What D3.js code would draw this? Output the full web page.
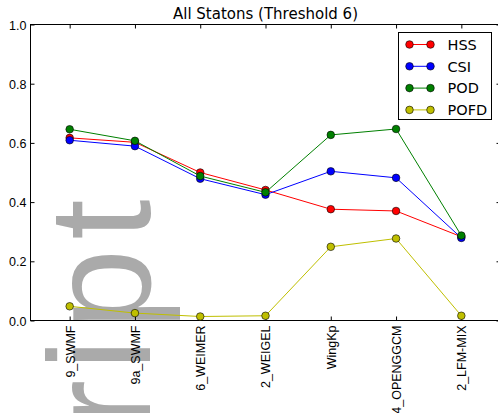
<!DOCTYPE html>
<html>
<head>
<meta charset="utf-8">
<script src="https://cdn.jsdelivr.net/npm/d3@7"></script>
<style>
  body { margin: 0; background: #fff; }
  svg { display: block; font-family: "DejaVu Sans", sans-serif; }
  .axis text { font-size: 12.5px; fill: #000; }
  .axis line { stroke: #000; }
</style>
</head>
<body>
<div id="chart"></div>
<script>
// values
var models = ["9_SWMF", "9a_SWMF", "6_WEIMER", "2_WEIGEL", "WingKp", "4_OPENGGCM", "2_LFM-MIX"];
var hss  = [0.617, 0.602, 0.500, 0.441, 0.376, 0.370, 0.283];
var csi  = [0.609, 0.589, 0.479, 0.425, 0.504, 0.482, 0.279];
var pod  = [0.646, 0.607, 0.488, 0.433, 0.627, 0.647, 0.287];
var pofd = [0.048, 0.025, 0.0135, 0.016, 0.249, 0.277, 0.016];
var seriesNames = ["HSS", "CSI", "POD", "POFD"];
var yTicks = [0.0, 0.2, 0.4, 0.6, 0.8, 1.0];

var width = 498, height = 413;
var plotLeft = 30.5, plotRight = 500.5, plotTop = 24.5, plotBottom = 320.5;

var svg = d3.select("#chart").append("svg")
  .attr("width", width)
  .attr("height", height);

// grey watermark behind everything (runs off the bottom edge)
svg.append("text")
  .attr("transform", "translate(150,428) rotate(-90)")
  .attr("text-anchor", "start")
  .style("font-family", "'Liberation Sans', Arial, sans-serif")
  .style("font-size", "145px")
  .style("letter-spacing", "9px")
  .attr("fill", "#aaaaaa")
  .text("ript");

var x = d3.scaleLinear().domain([-0.6, 6.6]).range([plotLeft, plotRight]);
var y = d3.scaleLinear().domain([0, 1]).range([plotBottom, plotTop]);

var color = d3.scaleOrdinal()
  .domain(seriesNames)
  .range(["#ff0000", "#0000ff", "#008000", "#bfbf00"]);

var series = [hss, csi, pod, pofd];

// axes, ticks point inward
var gLeft = svg.append("g").attr("class", "axis")
  .attr("transform", "translate(" + plotLeft + ",0)")
  .call(d3.axisLeft(y).tickValues(yTicks).tickFormat(d3.format(".1f"))
    .tickSizeInner(-4).tickSizeOuter(0).tickPadding(4));
svg.append("g").attr("class", "axis")
  .attr("transform", "translate(" + plotRight + ",0)")
  .call(d3.axisRight(y).tickValues(yTicks).tickFormat("")
    .tickSizeInner(-4).tickSizeOuter(0));
svg.append("g").attr("class", "axis")
  .attr("transform", "translate(0," + plotTop + ")")
  .call(d3.axisTop(x).tickValues(d3.range(models.length)).tickFormat("")
    .tickSizeInner(-4).tickSizeOuter(0));
var gBottom = svg.append("g").attr("class", "axis")
  .attr("transform", "translate(0," + plotBottom + ")")
  .call(d3.axisBottom(x).tickValues(d3.range(models.length))
    .tickFormat(function (i) { return models[i]; })
    .tickSizeInner(-4).tickSizeOuter(0));

gBottom.selectAll("text")
  .attr("y", 0)
  .attr("x", -5)
  .attr("dy", "0.35em")
  .attr("transform", "rotate(-90)")
  .style("text-anchor", "end");

svg.selectAll(".axis .domain").remove();
gLeft.selectAll("text").attr("dy", "0.36em");

// frame
svg.append("rect")
  .attr("x", plotLeft).attr("y", plotTop)
  .attr("width", plotRight - plotLeft).attr("height", plotBottom - plotTop)
  .attr("fill", "none").attr("stroke", "#000").attr("stroke-width", 1);

var line = d3.line()
  .x(function (d, i) { return x(i); })
  .y(function (d) { return y(d); });

series.forEach(function (vals, k) {
  var name = seriesNames[k];
  svg.append("path")
    .datum(vals)
    .attr("d", line)
    .attr("fill", "none")
    .attr("stroke", color(name))
    .attr("stroke-width", 1);
  svg.selectAll(".dot-" + k)
    .data(vals)
    .join("circle")
    .attr("class", "dot-" + k)
    .attr("cx", function (d, i) { return x(i); })
    .attr("cy", function (d) { return y(d); })
    .attr("r", 3.8)
    .attr("fill", color(name))
    .attr("stroke", "#000")
    .attr("stroke-width", 0.6);
});

// title
svg.append("text")
  .attr("x", (plotLeft + plotRight) / 2)
  .attr("y", 19)
  .attr("text-anchor", "middle")
  .style("font-size", "15px")
  .text("All Statons (Threshold 6)");

// legend
var legend = svg.append("g").attr("transform", "translate(398.5,32.5)");
legend.append("rect")
  .attr("width", 93).attr("height", 87)
  .attr("fill", "#fff").attr("stroke", "#000").attr("stroke-width", 1);

var item = legend.selectAll(".item")
  .data(seriesNames)
  .join("g")
  .attr("class", "item")
  .attr("transform", function (d, i) { return "translate(0," + (12 + i * 21.8) + ")"; });

item.append("line")
  .attr("x1", 11).attr("x2", 32)
  .attr("stroke", function (d) { return color(d); })
  .attr("stroke-width", 1);
item.selectAll("circle")
  .data(function (d) { return [[11, d], [32, d]]; })
  .join("circle")
  .attr("cx", function (d) { return d[0]; })
  .attr("r", 3.8)
  .attr("fill", function (d) { return color(d[1]); })
  .attr("stroke", "#000")
  .attr("stroke-width", 0.6);
item.append("text")
  .attr("x", 49)
  .attr("dy", "0.36em")
  .style("font-size", "14.5px")
  .text(function (d) { return d; });
</script>
</body>
</html>
